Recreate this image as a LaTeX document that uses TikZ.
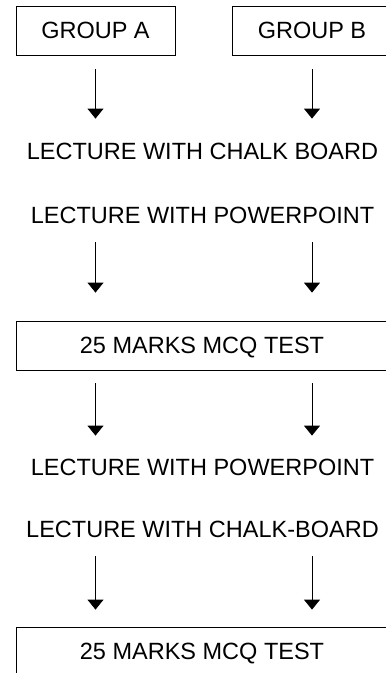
\documentclass[tikz,border=0pt]{standalone}
\usepackage{fontspec}
\setmainfont{Liberation Sans}
\usepackage{tikz}
\usetikzlibrary{arrows.meta}
\tikzset{
	box/.style = {draw, line width=0.8pt, minimum height=49pt, inner sep=0pt, text depth=0pt},
	txt/.style = {inner sep=0pt, text depth=0pt},
	flow/.style = {-{Triangle[width=16pt,length=10pt]}, line width=0.8pt}
}

\begin{document}
\begin{tikzpicture}[x=1pt, y=-1pt, font=\fontsize{23.5}{28}\selectfont]
			\useasboundingbox (0,0) rectangle (386,673);
			\clip (0,0) rectangle (386,673);
			\node[box, minimum width=159pt] (grpA) at (95.5,30.5) {GROUP A};
			\node[box, minimum width=160pt] (grpB) at (312,30.5) {GROUP B};
			\node[txt] (chalk1) at (202.5,151) {LECTURE WITH CHALK BOARD};
			\node[txt] (ppt1) at (202.5,215) {LECTURE WITH POWERPOINT};
			\node[box, minimum width=372pt] (test1) at (202,345.5) {25 MARKS MCQ TEST};
			\node[txt] (ppt2) at (202.5,467) {LECTURE WITH POWERPOINT};
			\node[txt] (chalk2) at (202.5,529.5) {LECTURE WITH CHALK-BOARD};
			\node[box, minimum width=372pt] (test2) at (202,651.5) {25 MARKS MCQ TEST};
			% groups to first lecture
			\draw[flow, shorten <=14pt, shorten >=24pt] (grpA.south) -- (grpA |- chalk1.north);
			\draw[flow, shorten <=14pt, shorten >=24pt] (grpB.south) -- (grpB |- chalk1.north);
			% second lecture to test
			\draw[flow, shorten <=19pt, shorten >=28pt] (grpA |- ppt1.south) -- (grpA |- test1.north);
			\draw[flow, shorten <=19pt, shorten >=28pt] (grpB |- ppt1.south) -- (grpB |- test1.north);
			% test to crossed-over lectures
			\draw[flow, shorten <=13pt, shorten >=23pt] (grpA |- test1.south) -- (grpA |- ppt2.north);
			\draw[flow, shorten <=13pt, shorten >=23pt] (grpB |- test1.south) -- (grpB |- ppt2.north);
			% last lecture to second test
			\draw[flow, shorten <=18pt, shorten >=17pt] (grpA |- chalk2.south) -- (grpA |- test2.north);
			\draw[flow, shorten <=18pt, shorten >=17pt] (grpB |- chalk2.south) -- (grpB |- test2.north);
		\end{tikzpicture}
\end{document}
